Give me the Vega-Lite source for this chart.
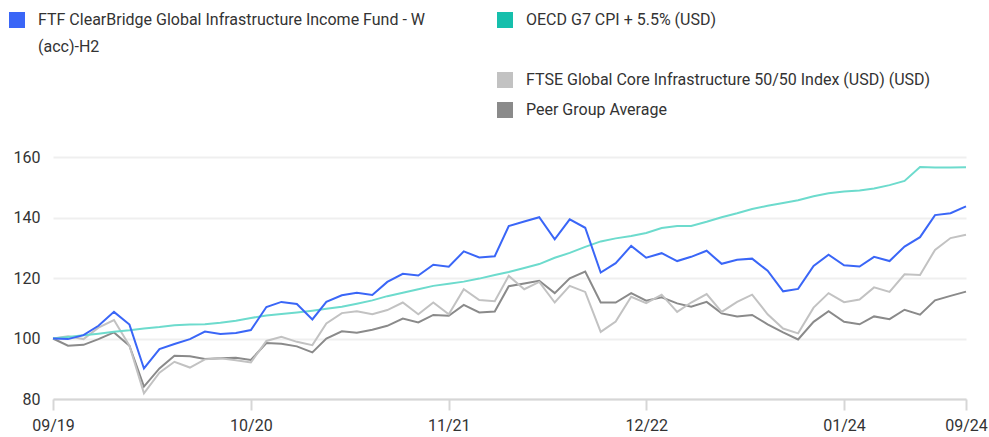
{
  "$schema": "https://vega.github.io/schema/vega-lite/v6.json",
  "autosize": {"type": "none"},
  "width": 913,
  "height": 242,
  "padding": {"left": 53, "top": 157, "right": 23, "bottom": 38},
  "background": "#ffffff",
  "config": {
    "view": {"stroke": null},
    "font": "Roboto",
    "axis": {"labelFont": "Roboto", "labelFontSize": 16, "labelColor": "#333333", "title": null},
    "legend": {"labelFont": "Roboto", "labelFontSize": 16, "labelColor": "#333333", "padding": 0, "symbolType": "square", "symbolSize": 256, "symbolStrokeWidth": 0, "labelOffset": 13, "labelLimit": 600, "title": null}
  },
  "datasets": {
    "perf": [
      {"date":"2019-09-01","series":"FTF","value":100},{"date":"2019-09-01","series":"OECD","value":100},{"date":"2019-09-01","series":"FTSE","value":100},{"date":"2019-09-01","series":"Peer","value":100},
      {"date":"2019-10-01","series":"FTF","value":99.8},{"date":"2019-10-01","series":"OECD","value":100.5},{"date":"2019-10-01","series":"FTSE","value":100.7},{"date":"2019-10-01","series":"Peer","value":97.6},
      {"date":"2019-11-01","series":"FTF","value":101.1},{"date":"2019-11-01","series":"OECD","value":101.1},{"date":"2019-11-01","series":"FTSE","value":99.8},{"date":"2019-11-01","series":"Peer","value":97.9},
      {"date":"2019-12-01","series":"FTF","value":104.2},{"date":"2019-12-01","series":"OECD","value":101.6},{"date":"2019-12-01","series":"FTSE","value":103.6},{"date":"2019-12-01","series":"Peer","value":99.8},
      {"date":"2020-01-01","series":"FTF","value":108.8},{"date":"2020-01-01","series":"OECD","value":102.2},{"date":"2020-01-01","series":"FTSE","value":106.1},{"date":"2020-01-01","series":"Peer","value":102.0},
      {"date":"2020-02-01","series":"FTF","value":104.6},{"date":"2020-02-01","series":"OECD","value":102.7},{"date":"2020-02-01","series":"FTSE","value":97.6},{"date":"2020-02-01","series":"Peer","value":97.6},
      {"date":"2020-03-01","series":"FTF","value":90.1},{"date":"2020-03-01","series":"OECD","value":103.3},{"date":"2020-03-01","series":"FTSE","value":81.9},{"date":"2020-03-01","series":"Peer","value":84.1},
      {"date":"2020-04-01","series":"FTF","value":96.5},{"date":"2020-04-01","series":"OECD","value":103.8},{"date":"2020-04-01","series":"FTSE","value":88.7},{"date":"2020-04-01","series":"Peer","value":90.1},
      {"date":"2020-05-01","series":"FTF","value":98.2},{"date":"2020-05-01","series":"OECD","value":104.4},{"date":"2020-05-01","series":"FTSE","value":92.3},{"date":"2020-05-01","series":"Peer","value":94.3},
      {"date":"2020-06-01","series":"FTF","value":99.8},{"date":"2020-06-01","series":"OECD","value":104.6},{"date":"2020-06-01","series":"FTSE","value":90.4},{"date":"2020-06-01","series":"Peer","value":94.1},
      {"date":"2020-07-01","series":"FTF","value":102.3},{"date":"2020-07-01","series":"OECD","value":104.7},{"date":"2020-07-01","series":"FTSE","value":93.1},{"date":"2020-07-01","series":"Peer","value":93.2},
      {"date":"2020-08-01","series":"FTF","value":101.5},{"date":"2020-08-01","series":"OECD","value":105.2},{"date":"2020-08-01","series":"FTSE","value":93.5},{"date":"2020-08-01","series":"Peer","value":93.5},
      {"date":"2020-09-01","series":"FTF","value":101.8},{"date":"2020-09-01","series":"OECD","value":105.9},{"date":"2020-09-01","series":"FTSE","value":92.8},{"date":"2020-09-01","series":"Peer","value":93.6},
      {"date":"2020-10-01","series":"FTF","value":102.8},{"date":"2020-10-01","series":"OECD","value":106.8},{"date":"2020-10-01","series":"FTSE","value":92.1},{"date":"2020-10-01","series":"Peer","value":92.9},
      {"date":"2020-11-01","series":"FTF","value":110.4},{"date":"2020-11-01","series":"OECD","value":107.6},{"date":"2020-11-01","series":"FTSE","value":99.2},{"date":"2020-11-01","series":"Peer","value":98.5},
      {"date":"2020-12-01","series":"FTF","value":112.1},{"date":"2020-12-01","series":"OECD","value":108.1},{"date":"2020-12-01","series":"FTSE","value":100.6},{"date":"2020-12-01","series":"Peer","value":98.3},
      {"date":"2021-01-01","series":"FTF","value":111.4},{"date":"2021-01-01","series":"OECD","value":108.6},{"date":"2021-01-01","series":"FTSE","value":98.9},{"date":"2021-01-01","series":"Peer","value":97.4},
      {"date":"2021-02-01","series":"FTF","value":106.3},{"date":"2021-02-01","series":"OECD","value":109.2},{"date":"2021-02-01","series":"FTSE","value":97.8},{"date":"2021-02-01","series":"Peer","value":95.4},
      {"date":"2021-03-01","series":"FTF","value":112.1},{"date":"2021-03-01","series":"OECD","value":109.8},{"date":"2021-03-01","series":"FTSE","value":105.0},{"date":"2021-03-01","series":"Peer","value":100.0},
      {"date":"2021-04-01","series":"FTF","value":114.3},{"date":"2021-04-01","series":"OECD","value":110.5},{"date":"2021-04-01","series":"FTSE","value":108.4},{"date":"2021-04-01","series":"Peer","value":102.4},
      {"date":"2021-05-01","series":"FTF","value":115.1},{"date":"2021-05-01","series":"OECD","value":111.5},{"date":"2021-05-01","series":"FTSE","value":109.0},{"date":"2021-05-01","series":"Peer","value":101.9},
      {"date":"2021-06-01","series":"FTF","value":114.4},{"date":"2021-06-01","series":"OECD","value":112.6},{"date":"2021-06-01","series":"FTSE","value":108.0},{"date":"2021-06-01","series":"Peer","value":102.9},
      {"date":"2021-07-01","series":"FTF","value":118.7},{"date":"2021-07-01","series":"OECD","value":114.0},{"date":"2021-07-01","series":"FTSE","value":109.4},{"date":"2021-07-01","series":"Peer","value":104.2},
      {"date":"2021-08-01","series":"FTF","value":121.4},{"date":"2021-08-01","series":"OECD","value":115.1},{"date":"2021-08-01","series":"FTSE","value":111.9},{"date":"2021-08-01","series":"Peer","value":106.6},
      {"date":"2021-09-01","series":"FTF","value":120.8},{"date":"2021-09-01","series":"OECD","value":116.3},{"date":"2021-09-01","series":"FTSE","value":108.0},{"date":"2021-09-01","series":"Peer","value":105.3},
      {"date":"2021-10-01","series":"FTF","value":124.4},{"date":"2021-10-01","series":"OECD","value":117.4},{"date":"2021-10-01","series":"FTSE","value":111.9},{"date":"2021-10-01","series":"Peer","value":107.8},
      {"date":"2021-11-01","series":"FTF","value":123.7},{"date":"2021-11-01","series":"OECD","value":118.1},{"date":"2021-11-01","series":"FTSE","value":108.0},{"date":"2021-11-01","series":"Peer","value":107.5},
      {"date":"2021-12-01","series":"FTF","value":128.8},{"date":"2021-12-01","series":"OECD","value":118.8},{"date":"2021-12-01","series":"FTSE","value":116.3},{"date":"2021-12-01","series":"Peer","value":111.1},
      {"date":"2022-01-01","series":"FTF","value":126.8},{"date":"2022-01-01","series":"OECD","value":119.8},{"date":"2022-01-01","series":"FTSE","value":112.7},{"date":"2022-01-01","series":"Peer","value":108.6},
      {"date":"2022-02-01","series":"FTF","value":127.2},{"date":"2022-02-01","series":"OECD","value":121.0},{"date":"2022-02-01","series":"FTSE","value":112.3},{"date":"2022-02-01","series":"Peer","value":108.9},
      {"date":"2022-03-01","series":"FTF","value":137.2},{"date":"2022-03-01","series":"OECD","value":122.0},{"date":"2022-03-01","series":"FTSE","value":120.7},{"date":"2022-03-01","series":"Peer","value":117.3},
      {"date":"2022-04-01","series":"FTF","value":138.7},{"date":"2022-04-01","series":"OECD","value":123.3},{"date":"2022-04-01","series":"FTSE","value":116.3},{"date":"2022-04-01","series":"Peer","value":118.2},
      {"date":"2022-05-01","series":"FTF","value":140.1},{"date":"2022-05-01","series":"OECD","value":124.6},{"date":"2022-05-01","series":"FTSE","value":118.7},{"date":"2022-05-01","series":"Peer","value":119.1},
      {"date":"2022-06-01","series":"FTF","value":132.8},{"date":"2022-06-01","series":"OECD","value":126.7},{"date":"2022-06-01","series":"FTSE","value":111.9},{"date":"2022-06-01","series":"Peer","value":115.0},
      {"date":"2022-07-01","series":"FTF","value":139.4},{"date":"2022-07-01","series":"OECD","value":128.3},{"date":"2022-07-01","series":"FTSE","value":117.4},{"date":"2022-07-01","series":"Peer","value":119.9},
      {"date":"2022-08-01","series":"FTF","value":136.6},{"date":"2022-08-01","series":"OECD","value":130.3},{"date":"2022-08-01","series":"FTSE","value":115.4},{"date":"2022-08-01","series":"Peer","value":122.1},
      {"date":"2022-09-01","series":"FTF","value":121.8},{"date":"2022-09-01","series":"OECD","value":132.1},{"date":"2022-09-01","series":"FTSE","value":102.2},{"date":"2022-09-01","series":"Peer","value":111.9},
      {"date":"2022-10-01","series":"FTF","value":124.9},{"date":"2022-10-01","series":"OECD","value":133.1},{"date":"2022-10-01","series":"FTSE","value":105.6},{"date":"2022-10-01","series":"Peer","value":111.9},
      {"date":"2022-11-01","series":"FTF","value":130.6},{"date":"2022-11-01","series":"OECD","value":133.9},{"date":"2022-11-01","series":"FTSE","value":113.8},{"date":"2022-11-01","series":"Peer","value":115.0},
      {"date":"2022-12-01","series":"FTF","value":126.7},{"date":"2022-12-01","series":"OECD","value":134.9},{"date":"2022-12-01","series":"FTSE","value":111.7},{"date":"2022-12-01","series":"Peer","value":112.5},
      {"date":"2023-01-01","series":"FTF","value":128.2},{"date":"2023-01-01","series":"OECD","value":136.5},{"date":"2023-01-01","series":"FTSE","value":114.5},{"date":"2023-01-01","series":"Peer","value":113.6},
      {"date":"2023-02-01","series":"FTF","value":125.6},{"date":"2023-02-01","series":"OECD","value":137.2},{"date":"2023-02-01","series":"FTSE","value":108.8},{"date":"2023-02-01","series":"Peer","value":111.6},
      {"date":"2023-03-01","series":"FTF","value":127.0},{"date":"2023-03-01","series":"OECD","value":137.2},{"date":"2023-03-01","series":"FTSE","value":111.9},{"date":"2023-03-01","series":"Peer","value":110.5},
      {"date":"2023-04-01","series":"FTF","value":129.0},{"date":"2023-04-01","series":"OECD","value":138.6},{"date":"2023-04-01","series":"FTSE","value":114.7},{"date":"2023-04-01","series":"Peer","value":112.1},
      {"date":"2023-05-01","series":"FTF","value":124.7},{"date":"2023-05-01","series":"OECD","value":140.1},{"date":"2023-05-01","series":"FTSE","value":108.8},{"date":"2023-05-01","series":"Peer","value":108.3},
      {"date":"2023-06-01","series":"FTF","value":126.0},{"date":"2023-06-01","series":"OECD","value":141.4},{"date":"2023-06-01","series":"FTSE","value":112.1},{"date":"2023-06-01","series":"Peer","value":107.3},
      {"date":"2023-07-01","series":"FTF","value":126.4},{"date":"2023-07-01","series":"OECD","value":142.8},{"date":"2023-07-01","series":"FTSE","value":114.5},{"date":"2023-07-01","series":"Peer","value":107.8},
      {"date":"2023-08-01","series":"FTF","value":122.4},{"date":"2023-08-01","series":"OECD","value":143.9},{"date":"2023-08-01","series":"FTSE","value":108.0},{"date":"2023-08-01","series":"Peer","value":104.7},
      {"date":"2023-09-01","series":"FTF","value":115.6},{"date":"2023-09-01","series":"OECD","value":144.8},{"date":"2023-09-01","series":"FTSE","value":103.3},{"date":"2023-09-01","series":"Peer","value":102.0},
      {"date":"2023-10-01","series":"FTF","value":116.4},{"date":"2023-10-01","series":"OECD","value":145.7},{"date":"2023-10-01","series":"FTSE","value":101.7},{"date":"2023-10-01","series":"Peer","value":99.7},
      {"date":"2023-11-01","series":"FTF","value":124.0},{"date":"2023-11-01","series":"OECD","value":147.0},{"date":"2023-11-01","series":"FTSE","value":110.2},{"date":"2023-11-01","series":"Peer","value":105.5},
      {"date":"2023-12-01","series":"FTF","value":127.7},{"date":"2023-12-01","series":"OECD","value":148.0},{"date":"2023-12-01","series":"FTSE","value":115.0},{"date":"2023-12-01","series":"Peer","value":109.0},
      {"date":"2024-01-01","series":"FTF","value":124.2},{"date":"2024-01-01","series":"OECD","value":148.6},{"date":"2024-01-01","series":"FTSE","value":112.0},{"date":"2024-01-01","series":"Peer","value":105.5},
      {"date":"2024-02-01","series":"FTF","value":123.8},{"date":"2024-02-01","series":"OECD","value":148.9},{"date":"2024-02-01","series":"FTSE","value":112.9},{"date":"2024-02-01","series":"Peer","value":104.7},
      {"date":"2024-03-01","series":"FTF","value":127.0},{"date":"2024-03-01","series":"OECD","value":149.6},{"date":"2024-03-01","series":"FTSE","value":116.9},{"date":"2024-03-01","series":"Peer","value":107.3},
      {"date":"2024-04-01","series":"FTF","value":125.6},{"date":"2024-04-01","series":"OECD","value":150.7},{"date":"2024-04-01","series":"FTSE","value":115.4},{"date":"2024-04-01","series":"Peer","value":106.4},
      {"date":"2024-05-01","series":"FTF","value":130.4},{"date":"2024-05-01","series":"OECD","value":152.1},{"date":"2024-05-01","series":"FTSE","value":121.2},{"date":"2024-05-01","series":"Peer","value":109.5},
      {"date":"2024-06-01","series":"FTF","value":133.5},{"date":"2024-06-01","series":"OECD","value":156.7},{"date":"2024-06-01","series":"FTSE","value":121.0},{"date":"2024-06-01","series":"Peer","value":107.9},
      {"date":"2024-07-01","series":"FTF","value":140.8},{"date":"2024-07-01","series":"OECD","value":156.5},{"date":"2024-07-01","series":"FTSE","value":129.3},{"date":"2024-07-01","series":"Peer","value":112.6},
      {"date":"2024-08-01","series":"FTF","value":141.4},{"date":"2024-08-01","series":"OECD","value":156.5},{"date":"2024-08-01","series":"FTSE","value":133.2},{"date":"2024-08-01","series":"Peer","value":114.1},
      {"date":"2024-09-01","series":"FTF","value":143.7},{"date":"2024-09-01","series":"OECD","value":156.6},{"date":"2024-09-01","series":"FTSE","value":134.3},{"date":"2024-09-01","series":"Peer","value":115.5}
    ]
  },
  "data": {"name": "perf"},
  "encoding": {
    "x": {
      "field": "date", "type": "temporal",
      "scale": {"type": "utc", "domain": [{"year": 2019, "month": 9, "date": 1, "utc": true}, {"year": 2024, "month": 9, "date": 1, "utc": true}]},
      "axis": {
        "labelExpr": "utcFormat(datum.value, '%m/%y')",
        "values": [
          {"year": 2019, "month": 9, "date": 1, "utc": true},
          {"year": 2020, "month": 10, "date": 1, "utc": true},
          {"year": 2021, "month": 11, "date": 1, "utc": true},
          {"year": 2022, "month": 12, "date": 1, "utc": true},
          {"year": 2024, "month": 1, "date": 1, "utc": true},
          {"year": 2024, "month": 9, "date": 1, "utc": true}
        ],
        "labelFlush": false, "labelOverlap": false, "grid": false,
        "domainColor": "#d6d6d6", "domainWidth": 2,
        "tickColor": "#d6d6d6", "tickWidth": 2, "tickSize": 11,
        "labelPadding": 7
      }
    },
    "y": {
      "field": "value", "type": "quantitative",
      "scale": {"domain": [80, 160], "nice": false, "zero": false},
      "axis": {
        "values": [80, 100, 120, 140, 160],
        "grid": true, "gridColor": "#efefef", "gridWidth": 2,
        "domain": false, "ticks": false, "labelPadding": 13
      }
    }
  },
  "layer": [
    {
      "transform": [{"filter": "datum.series === 'Peer'"}],
      "mark": {"type": "line", "strokeWidth": 2},
      "encoding": {
        "color": {"field": "series", "type": "nominal",
          "scale": {"domain": ["Peer"], "range": ["#8a8a8a"]},
          "legend": {"orient": "none", "legendX": 444, "legendY": -55, "symbolFillColor": "#8a8a8a", "labelExpr": "'Peer Group Average'"}}
      }
    },
    {
      "transform": [{"filter": "datum.series === 'FTSE'"}],
      "mark": {"type": "line", "strokeWidth": 2},
      "encoding": {
        "color": {"field": "series", "type": "nominal",
          "scale": {"domain": ["FTSE"], "range": ["#c2c2c2"]},
          "legend": {"orient": "none", "legendX": 444, "legendY": -85, "symbolFillColor": "#c2c2c2", "labelExpr": "'FTSE Global Core Infrastructure 50/50 Index (USD) (USD)'"}}
      }
    },
    {
      "transform": [{"filter": "datum.series === 'OECD'"}],
      "mark": {"type": "line", "strokeWidth": 2},
      "encoding": {
        "color": {"field": "series", "type": "nominal",
          "scale": {"domain": ["OECD"], "range": ["#6ddbcd"]},
          "legend": {"orient": "none", "legendX": 444, "legendY": -145, "symbolFillColor": "#16bfac", "labelExpr": "'OECD G7 CPI + 5.5% (USD)'"}}
      }
    },
    {
      "transform": [{"filter": "datum.series === 'FTF'"}],
      "mark": {"type": "line", "strokeWidth": 2},
      "encoding": {
        "color": {"field": "series", "type": "nominal",
          "scale": {"domain": ["FTF"], "range": ["#3a66f7"]},
          "legend": {"orient": "none", "legendX": -44, "legendY": -145, "symbolFillColor": "#3a66f7",
            "labelExpr": "['FTF ClearBridge Global Infrastructure Income Fund - W', '(acc)-H2']",
            "encode": {"labels": {"update": {"lineHeight": {"value": 27}}}}}}
      }
    }
  ],
  "resolve": {"scale": {"color": "independent"}}
}
